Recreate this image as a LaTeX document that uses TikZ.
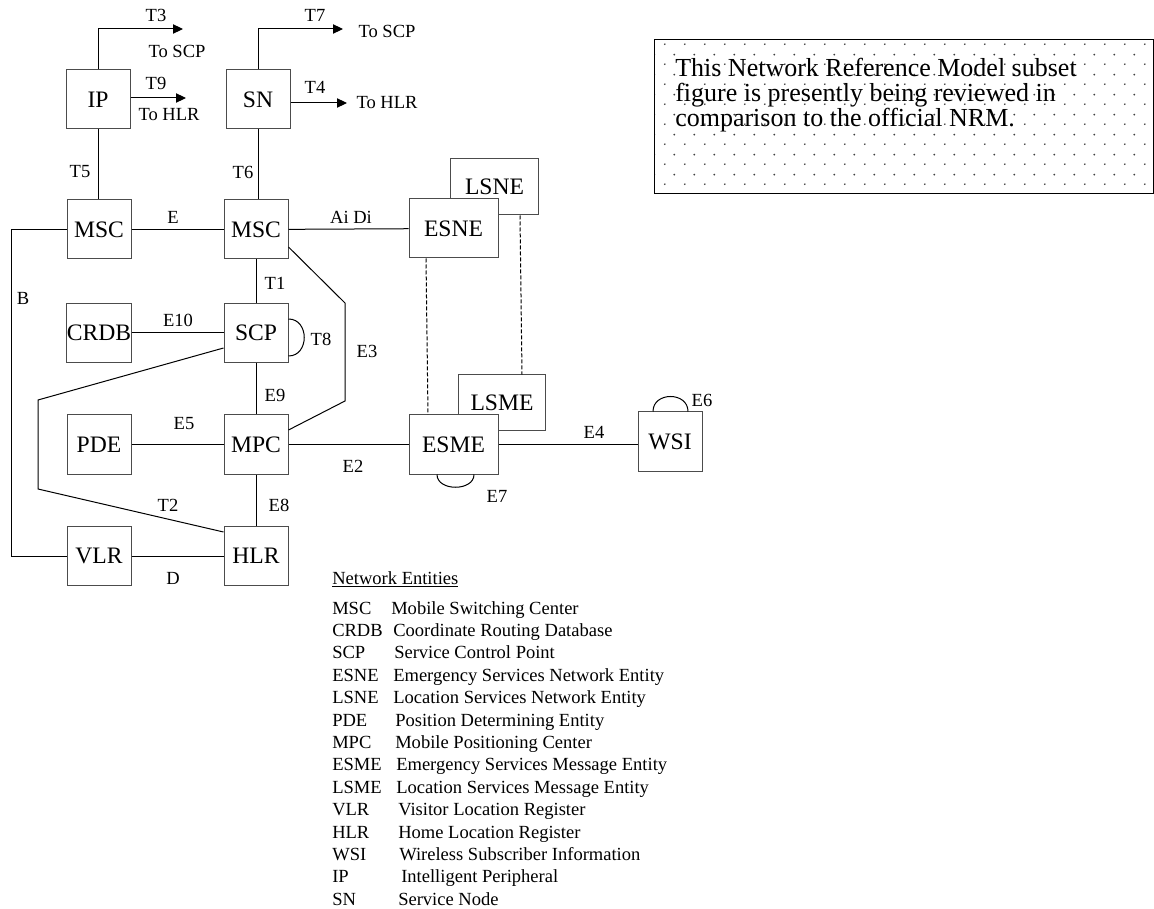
\documentclass[tikz,border=0pt]{standalone}
\usepackage{fontspec}
\setmainfont{Liberation Serif}
\usepackage{tikz}
\usetikzlibrary{calc, positioning, arrows.meta, patterns}
\newcommand\boxfont{\fontsize{17.7}{20}\selectfont}
\newcommand\lblfont{\fontsize{13.9}{16}\selectfont}
\newcommand\notefont{\fontsize{19.5}{18.75}\selectfont}
\pgfdeclarepatternformonly{nrmdots}{\pgfpointorigin}{\pgfpoint{15pt}{15pt}}{\pgfpoint{15pt}{15pt}}{%
  \pgfpathcircle{\pgfpoint{3.75pt}{3.75pt}}{0.75pt}%
  \pgfpathcircle{\pgfpoint{11.25pt}{11.25pt}}{0.75pt}%
  \pgfusepath{fill}}

\begin{document}
\begin{tikzpicture}[x=0.75pt, y=-0.75pt,
  box/.style={rectangle, draw=black!70, fill=white, line width=0.75pt, minimum width=48pt, minimum height=44.25pt, inner sep=0pt, font=\boxfont},
  widebox/.style={box, minimum width=66.75pt},
  lsbox/.style={box, minimum width=65.5pt, minimum height=42pt},
  notebox/.style={rectangle, draw=black, line width=1pt, pattern=nrmdots, pattern color=black!75, minimum width=374.25pt, minimum height=115.5pt, inner sep=0pt, anchor=north west},
  link/.style={line width=0.75pt},
  arr/.style={link, -{Triangle[length=7.5pt, width=7pt]}},
  dashlink/.style={line width=0.75pt, dash pattern=on 3pt off 1.5pt},
  lbl/.style={font=\lblfont, inner sep=0pt},
  legend/.style={font=\lblfont, inner sep=0pt, anchor=base west}
]
  \useasboundingbox (0,0) rectangle (1154,909);

  \node[box] (ip) at (98,99.5) {IP};
  \node[box] (sn) at (258,99.5) {SN};
  \node[box] (mscA) at (99,229.5) {MSC};
  \node[box] (mscB) at (256,229.5) {MSC};
  \node[lsbox] (lsne) at (494.5,187) {LSNE};
  \node[widebox] (esne) at (453.5,228.5) {ESNE};
  \node[box] (crdb) at (99,333) {CRDB};
  \node[box] (scp) at (256,333) {SCP};
  \node[box] (pde) at (99,444.5) {PDE};
  \node[box] (mpc) at (256,444.5) {MPC};
  \node[lsbox] (lsme) at (502,403) {LSME};
  \node[widebox] (esme) at (453.5,444.5) {ESME};
  \node[box] (wsi) at (670,441.5) {WSI};
  \node[box] (vlr) at (99,556) {VLR};
  \node[box] (hlr) at (256,556) {HLR};

  \coordinate (ipT3) at (183,29);
  \coordinate (ipT9) at (186,98);
  \coordinate (snT7) at (343,29);
  \coordinate (snT4) at (347,103);
  \coordinate (bBot) at (11,556);
  \coordinate (e3a) at (345,303);
  \coordinate (e3b) at (345,401);
  \coordinate (t2a) at (38,400);
  \coordinate (t2b) at (38,489);

  \draw[arr] (ip.north) |- (ipT3);
  \draw[arr] (ip.east |- ipT9) -- (ipT9);
  \draw[arr] (sn.north) |- (snT7);
  \draw[arr] (sn.east |- snT4) -- (snT4);
  \draw[link] (ip.south) -- (ip.south |- mscA.north);
  \draw[link] (sn.south) -- (sn.south |- mscB.north);
  \draw[link] (mscA) -- (mscB);
  \draw[link] (mscB) -- (esne);
  \draw[link] (mscA.west) -| (bBot) -- (vlr.west);
  \draw[link] (mscB) -- (scp);
  \draw[link] (crdb) -- (scp);
  \draw[link] (scp) -- (mpc);
  \draw[link] (pde) -- (mpc);
  \draw[link] (mpc) -- (hlr);
  \draw[link] (vlr) -- (hlr);
  \draw[link] (mpc) -- (esme);
  \draw[link] (esme.east) -- (esme.east -| wsi.west);
  \draw[link] ($(mscB.east)+(0,17.5)$) -- (e3a) -- (e3b) -- ($(mpc.east)+(0,-14.5)$);
  \draw[link] ($(scp.west)+(0,15)$) -- (t2a) -- (t2b) -- ($(hlr.north west)+(0,6)$);
  \draw[link] ($(scp.east)+(0,-14)$) .. controls +(21,0) and +(21,0) .. ($(scp.east)+(0,23)$);
  \draw[link] ($(wsi.north)+(-17,0)$) .. controls +(0,-20) and +(0,-20) .. ($(wsi.north)+(18,0)$);
  \draw[link] ($(esme.south)+(-16.5,0)$) .. controls +(0,17) and +(0,17) .. ($(esme.south)+(20.5,0)$);
  \draw[dashlink] ($(esne.south)+(-27.5,0)$) -- ($(esme.north)+(-25.5,0)$);
  \draw[dashlink] ($(lsne.south)+(25.5,0)$) -- ($(lsme.north)+(20,0)$);

  \node[lbl] (lT3) at (156,15) {T3};
  \node[lbl] (lIpScp) at (177,51) {To SCP};
  \node[lbl] (lT9) at (156,83) {T9};
  \node[lbl] (lIpHlr) at (169,115) {To HLR};
  \node[lbl] (lT7) at (315,15) {T7};
  \node[lbl] (lSnScp) at (387,31) {To SCP};
  \node[lbl] (lT4) at (315,87) {T4};
  \node[lbl] (lSnHlr) at (387,103) {To HLR};
  \node[lbl] (lT5) at (80,172) {T5};
  \node[lbl] (lT6) at (243,172) {T6};
  \node[lbl] (lE) at (173,217) {E};
  \node[lbl] (lAiDi) at (351,217) {Ai Di};
  \node[lbl] (lB) at (23,298) {B};
  \node[lbl] (lT1) at (275,283) {T1};
  \node[lbl] (lE10) at (178,320) {E10};
  \node[lbl] (lT8) at (321,339) {T8};
  \node[lbl] (lE3) at (367,351) {E3};
  \node[lbl] (lE9) at (275,395) {E9};
  \node[lbl] (lE5) at (184,424) {E5};
  \node[lbl] (lE2) at (353,466) {E2};
  \node[lbl] (lE8) at (279,505) {E8};
  \node[lbl] (lT2) at (168,505) {T2};
  \node[lbl] (lD) at (173,578) {D};
  \node[lbl] (lE4) at (594,432) {E4};
  \node[lbl] (lE6) at (702,400) {E6};
  \node[lbl] (lE7) at (497,496) {E7};

  \node[notebox] (note) at (654,39) {};
  \node[font=\notefont, align=left, anchor=north west, inner sep=0pt] (noteText) at ($(note.north west)+(21,19)$)
    {This Network Reference Model subset\\figure is presently being reviewed in\\comparison to the official NRM.};

  \node[legend] (legHead) at (332,584) {\underline{Network Entities}};
  \foreach \ab/\de/\dx [count=\i from 0] in {
      MSC/Mobile Switching Center/391,
      CRDB/Coordinate Routing Database/393,
      SCP/Service Control Point/394,
      ESNE/Emergency Services Network Entity/393,
      LSNE/Location Services Network Entity/393,
      PDE/Position Determining Entity/395,
      MPC/Mobile Positioning Center/395,
      ESME/Emergency Services Message Entity/396,
      LSME/Location Services Message Entity/396,
      VLR/Visitor Location Register/398,
      HLR/Home Location Register/398,
      WSI/Wireless Subscriber Information/399,
      IP/Intelligent Peripheral/401,
      SN/Service Node/398} {
    \node[legend] (ab\i) at (332,{614+22.4*\i}) {\ab};
    \node[legend] (de\i) at (\dx,{614+22.4*\i}) {\de};
  }
\end{tikzpicture}
\end{document}
